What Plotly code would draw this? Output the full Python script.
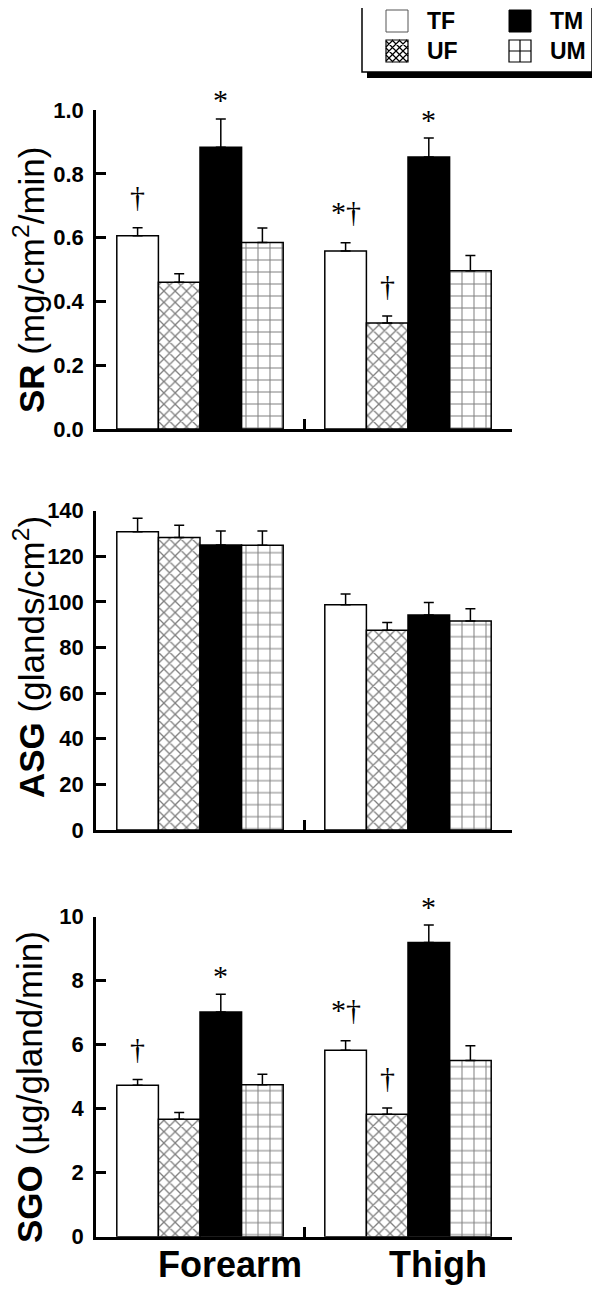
import plotly.graph_objects as go
from plotly.subplots import make_subplots

# Categories and groups
sites = ['Forearm', 'Thigh']
groups = ['TF', 'UF', 'TM', 'UM']

# Means and SE (rows: TF, UF, TM, UM; columns: Forearm, Thigh)
sr_mean = [[0.606, 0.558], [0.460, 0.332], [0.883, 0.853], [0.585, 0.496]]
sr_err = [[0.025, 0.026], [0.027, 0.022], [0.089, 0.059], [0.045, 0.048]]

asg_mean = [[130.8, 98.8], [128.2, 87.6], [125.0, 94.3], [124.8, 91.6]]
asg_err = [[5.9, 4.7], [5.4, 3.4], [6.1, 5.5], [6.3, 5.4]]

sgo_mean = [[4.73, 5.83], [3.67, 3.83], [7.02, 9.19], [4.75, 5.51]]
sgo_err = [[0.18, 0.29], [0.21, 0.19], [0.56, 0.55], [0.33, 0.46]]

# Significance marks: (site, group, text)
sr_marks = [('Forearm', 'TF', '†'), ('Forearm', 'TM', '*'),
            ('Thigh', 'TF', '*†'), ('Thigh', 'UF', '†'), ('Thigh', 'TM', '*')]
sgo_marks = [('Forearm', 'TF', '†'), ('Forearm', 'TM', '*'),
             ('Thigh', 'TF', '*†'), ('Thigh', 'UF', '†'), ('Thigh', 'TM', '*')]

# Bar styles
fills = {'TF': 'white', 'UF': 'white', 'TM': 'black', 'UM': 'white'}
patterns = {'TF': '', 'UF': 'x', 'TM': '', 'UM': '+'}
pat_size = {'TF': 8, 'UF': 8, 'TM': 8, 'UM': 12}
pat_solid = {'TF': 0.2, 'UF': 0.3, 'TM': 0.2, 'UM': 0.16}

# page is drawn with the browser's 8px body margin, so the figure is a bit smaller
OFF = 8
W, H = 600 - OFF, 1289 - OFF
FONT = 'Liberation Sans, Arial, sans-serif'
SERIF = 'Liberation Serif, Times New Roman, serif'


def px(x):
    return (x - OFF) / W


def py(y):
    return 1 - (y - OFF) / H


fig = make_subplots(rows=3, cols=1)

panels = [(sr_mean, sr_err), (asg_mean, asg_err), (sgo_mean, sgo_err)]
for r, (means, errs) in enumerate(panels, start=1):
    for i, g in enumerate(groups):
        fig.add_trace(go.Bar(
            x=sites, y=means[i], name=g, showlegend=False,
            marker=dict(color=fills[g],
                        line=dict(color='black', width=1.5),
                        pattern=dict(shape=patterns[g], fgcolor='black',
                                     bgcolor=fills[g], size=pat_size[g],
                                     solidity=pat_solid[g])),
            error_y=dict(type='data', array=errs[i], symmetric=False,
                         arrayminus=[0, 0], color='black',
                         thickness=1.5, width=5),
        ), row=r, col=1)

# Panel geometry in pixels (top, bottom) of each plot area
tops = [110, 510.7, 916.7]
bots = [429, 830, 1236.7]
yranges = [[0, 1.0], [0, 140], [0, 10]]
dticks = [0.2, 20, 2]
fmts = ['.1f', 'd', 'd']

for r in range(3):
    xa = 'xaxis' if r == 0 else 'xaxis%d' % (r + 1)
    ya = 'yaxis' if r == 0 else 'yaxis%d' % (r + 1)
    fig.layout[xa].update(
        domain=[px(96), px(512)], range=[-0.5, 1.5], automargin=False,
        showline=True, linecolor='black', linewidth=2.5,
        ticks='inside', tickson='boundaries', ticklen=10,
        tickwidth=2.5, tickcolor='black', showgrid=False, zeroline=False,
        showticklabels=(r == 2),
        tickfont=dict(family=FONT, size=36, color='black', weight='bold'),
        ticklabelshift=30, ticklabelstandoff=-6)
    fig.layout[ya].update(
        domain=[py(bots[r]), py(tops[r])], range=yranges[r], automargin=False,
        dtick=dticks[r], tickformat=fmts[r],
        showline=True, linecolor='black', linewidth=2.5,
        ticks='inside', ticklen=10, tickwidth=2.5, tickcolor='black',
        showgrid=False, zeroline=False, ticklabelstandoff=5,
        tickfont=dict(family=FONT, size=22, color='black', weight='bold'))

# Significance marks, placed just above the error bar of each marked bar
offsets = {g: (i - 1.5) * 41.6 for i, g in enumerate(groups)}
for r, marks, means, errs in [(1, sr_marks, sr_mean, sr_err),
                              (3, sgo_marks, sgo_mean, sgo_err)]:
    xr = 'x' if r == 1 else 'x%d' % r
    yr = 'y' if r == 1 else 'y%d' % r
    for site, g, txt in marks:
        i, j = groups.index(g), sites.index(site)
        fig.add_annotation(x=site, y=means[i][j] + errs[i][j], xref=xr, yref=yr,
                           text=txt, showarrow=False, xshift=offsets[g],
                           yanchor='middle',
                           yshift=19 if txt == '*' else 31,
                           font=dict(family=SERIF, size=30, color='black'))

# Y axis titles
ytitles = ['<b>SR</b> (mg/cm<sup>2</sup>/min)',
           '<b>ASG</b> (glands/cm<sup>2</sup>)',
           '<b>SGO</b> (µg/gland/min)']
ycenters = [280, 657, 1087]
for t, yc in zip(ytitles, ycenters):
    fig.add_annotation(x=px(29), y=py(yc), xref='paper', yref='paper',
                       text=t, textangle=-90, showarrow=False,
                       xanchor='center', yanchor='middle',
                       font=dict(family=FONT, size=35, color='black'))


# Legend box (drawn by hand to get the large swatches and drop shadow)
def rect(x0, y0, x1, y1, fill, lw=0, lc='black'):
    fig.add_shape(type='rect', xref='paper', yref='paper',
                  x0=px(x0), x1=px(x1), y0=py(y1), y1=py(y0),
                  fillcolor=fill, line=dict(color=lc, width=lw))


def path(segs, lw=1.2):
    d = ' '.join('M%.5f,%.5f L%.5f,%.5f' % (px(a), py(b), px(c), py(e))
                 for a, b, c, e in segs)
    fig.add_shape(type='path', xref='paper', yref='paper', path=d,
                  line=dict(color='black', width=lw))


rect(367, 6, 598, 78, 'black')
rect(362, 1, 592, 72, 'white', 1.5)

sw = 22
rect(386, 10, 386 + sw, 10 + sw, 'white', 1, '#555555')
rect(509, 10, 509 + sw, 10 + sw, 'black', 1)
# crosshatch swatch
ux, uy = 386, 40
segs = []
for c in range(-15, 22, 7):
    # lines x - y = c
    x0, y0 = max(0, c), max(0, -c)
    x1, y1 = min(sw, sw + c), min(sw, sw - c)
    segs.append((ux + x0, uy + y0, ux + x1, uy + y1))
for c in range(7, 44, 7):
    # lines x + y = c
    x0 = max(0, c - sw)
    x1 = min(sw, c)
    segs.append((ux + x0, uy + c - x0, ux + x1, uy + c - x1))
segs = [s for s in segs if abs(s[0] - s[2]) > 0.5]
path(segs)
rect(ux, uy, ux + sw, uy + sw, 'rgba(0,0,0,0)', 1.2)
# grid swatch
mx, my = 509, 40
path([(mx + sw / 2, my, mx + sw / 2, my + sw), (mx, my + sw / 2, mx + sw, my + sw / 2)])
rect(mx, my, mx + sw, my + sw, 'rgba(0,0,0,0)', 1.2)

for lab, lx, ly in [('TF', 425, 21), ('UF', 425, 51), ('TM', 548, 21), ('UM', 548, 51)]:
    fig.add_annotation(x=px(lx), y=py(ly), xref='paper', yref='paper', text=lab,
                       showarrow=False, xanchor='left', yanchor='middle',
                       font=dict(family=FONT, size=23, color='black', weight='bold'))

fig.update_layout(
    width=W, height=H,
    margin=dict(l=0, r=0, t=0, b=0, autoexpand=False),
    barmode='group', bargap=0.2, bargroupgap=0,
    plot_bgcolor='white', paper_bgcolor='white',
    font=dict(family=FONT, color='black'),
    showlegend=False,
)

fig.write_html('out.html')
